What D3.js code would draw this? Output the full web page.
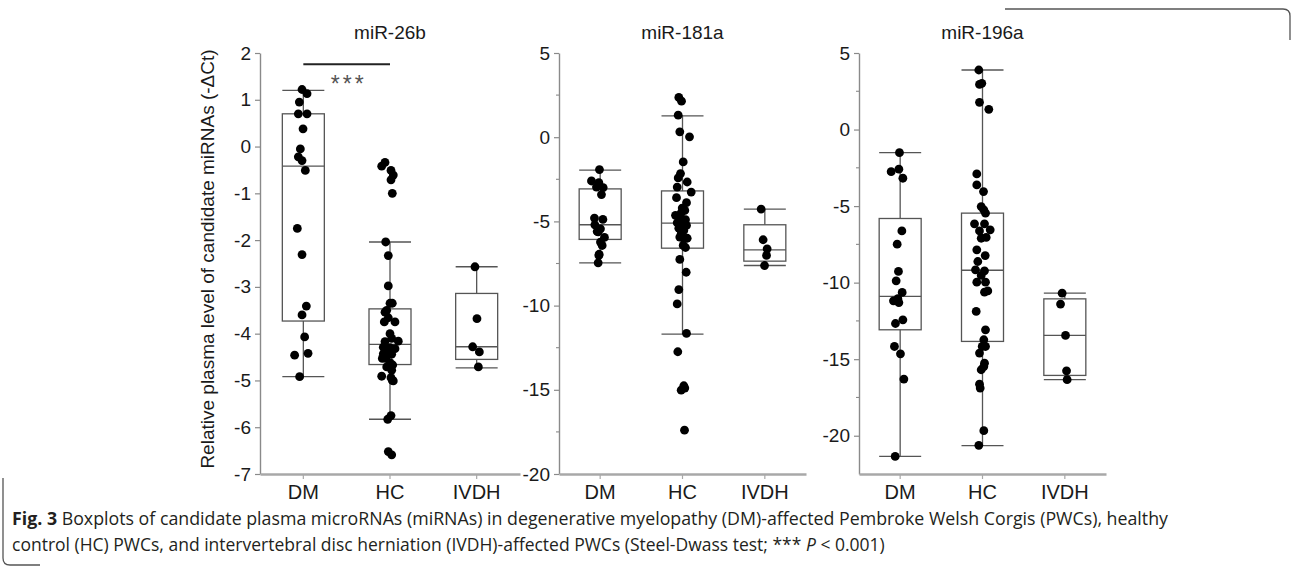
<!DOCTYPE html>
<html>
<head>
<meta charset="utf-8" />
<title>Fig. 3 miRNA boxplots</title>
<script src="https://d3js.org/d3.v7.min.js"></script>
<style>
  body { margin:0; background:#fff; }
  .lab { font-family: Helvetica, Arial, "Liberation Sans", sans-serif; fill:#1a1a1a; }
  .cap { font-family: "Liberation Sans Narrow", "Open Sans", sans-serif; fill:#231f20; }
</style>
</head>
<body>
<svg id="viz"></svg>
<script>
var width = 1292, height = 569;

var groups = ["DM", "HC", "IVDH"];
var titles = ["miR-26b", "miR-181a", "miR-196a"];

// miR-26b  (-dCt), box = [whisker low, q1, median, q3, whisker high]
var mir26b_DM = [1.22, 1.13, 0.95, 0.70, 0.70, 0.38, -0.05, -0.22, -0.30, -0.51, -1.75, -2.31, -3.41, -3.60, -4.07, -4.46, -4.42, -4.92];
var mir26b_HC = [-0.34, -0.42, -0.51, -0.61, -0.71, -1.00, -2.04, -2.33, -2.98, -3.35, -3.35, -3.54, -3.50, -3.66, -3.75, -3.75, -4.00, -4.10, -4.16, -4.17,
                 -4.29, -4.30, -4.32, -4.36, -4.43, -4.44, -4.53, -4.53, -4.62, -4.67, -4.71, -4.78, -4.91, -4.94, -5.01, -5.00, -5.75, -5.83, -6.52, -6.59];
var mir26b_IVDH = [-2.57, -3.68, -4.28, -4.39, -4.71];
var box26b = [[-4.92, -3.73, -0.42, 0.70, 1.20], [-5.83, -4.66, -4.23, -3.47, -2.04], [-4.73, -4.55, -4.28, -3.14, -2.57]];
var jit26b_DM = [-0.13, 0.37, -0.4, -0.5, 0.37, -0.03, -0.3, -0.5, -0.13, 0.2, -0.6, -0.13, 0.3, -0.13, 0.13, -0.87, 0.47, -0.37];
var jit26b_HC = [-0.5, -0.83, 0.1, 0.33, 0.1, 0.23, -0.43, -0.17, -0.17, 0, 0.23, -0.5, -0.33, -0.17, -0.57, 0.5, 0, 0.17, 0.83, -0.5,
                 -0.67, 0, 0.5, -0.23, -0.67, 0.17, -0.43, -0.77, 0, 0.27, -0.33, 0.17, -0.83, 0.1, 0.33, 0.23, 0.1, -0.23, -0.17, 0.17];
var jit26b_IVDH = [-0.17, 0.03, -0.4, 0.27, 0.17];

// miR-181a
var mir181a_DM = [-1.92, -2.60, -2.70, -2.96, -2.99, -3.41, -4.80, -4.88, -5.20, -5.44, -5.60, -5.62, -5.95, -6.23, -6.43, -6.95, -7.02, -7.46];
var mir181a_HC = [2.36, 2.14, 1.31, 0.32, 0.02, -1.47, -2.16, -2.42, -2.66, -2.96, -3.26, -3.59, -3.89, -4.21, -4.35, -4.50, -4.64, -4.80, -4.90, -5.08,
                  -5.20, -5.24, -5.40, -5.54, -5.73, -5.93, -6.00, -6.02, -6.43, -6.55, -7.26, -8.02, -9.05, -9.90, -11.65, -12.74, -14.76, -15.02, -14.90, -17.40];
var mir181a_IVDH = [-4.27, -6.09, -6.63, -7.02, -7.62];
var box181a = [[-7.46, -6.07, -5.20, -3.07, -1.96], [-11.69, -6.59, -5.10, -3.19, 1.27], [-7.62, -7.36, -6.69, -5.20, -4.27]];
var jit181a_DM = [-0.07, -0.87, -0.13, -0.37, 0.3, 0.13, -0.57, 0.27, -0.53, 0.03, -0.3, -0.2, 0.43, 0.03, 0.2, -0.1, -0.13, -0.2];
var jit181a_HC = [-0.37, -0.1, -0.43, -0.27, 0.7, 0.07, -0.2, -0.43, 0.47, -0.53, 0.87, -0.6, 0.4, -0.03, 0.23, -0.13, -0.7, -0.27, 0.3, -0.53,
                  0.07, 0.4, -0.37, 0.13, -0.13, -0.27, 0.47, 0.13, 0.07, 0.3, -0.27, 0.37, -0.37, -0.53, 0.4, -0.47, 0.13, -0.13, 0.23, 0.2];
var jit181a_IVDH = [-0.37, -0.17, 0.23, 0.17, -0.03];

// miR-196a
var mir196a_DM = [-1.51, -2.75, -2.59, -3.18, -6.62, -7.49, -9.27, -9.88, -10.64, -11.19, -11.30, -11.05, -12.43, -12.67, -14.17, -14.65, -16.30, -21.35];
var mir196a_HC = [3.89, 2.95, 3.02, 1.78, 1.32, -2.90, -3.62, -4.05, -5.03, -5.25, -5.46, -6.16, -6.16, -6.62, -6.55, -7.05, -7.10, -7.86, -8.23, -8.62,
                  -9.16, -9.23, -9.53, -9.97, -9.97, -10.54, -10.62, -11.88, -13.08, -13.73, -14.17, -14.17, -14.60, -15.26, -15.48, -15.69, -16.63, -16.89, -19.67, -20.63];
var mir196a_IVDH = [-10.69, -11.40, -13.45, -15.76, -16.34];
var box196a = [[-21.35, -13.08, -10.90, -5.81, -1.51], [-20.65, -13.84, -9.19, -5.46, 3.89], [-16.34, -16.06, -13.45, -11.06, -10.69]];
var jit196a_DM = [-0.07, -0.9, -0.13, 0.27, 0.17, -0.3, -0.17, -0.4, 0.2, -0.67, -0.13, -0.23, 0.27, -0.47, -0.57, 0.03, 0.37, -0.5];
var jit196a_HC = [-0.37, -0.3, -0.07, -0.3, 0.63, -0.57, -0.57, 0.1, -0.13, 0.13, 0.3, -0.8, 0.2, -0.3, 0.77, 0.37, -0.13, -0.57, 0.27, -0.47,
                  -0.7, 0.2, -0.13, -0.57, 0.3, 0.53, 0.2, -0.63, 0.3, 0.13, -0.03, 0.3, -0.3, 0.2, 0.13, -0.13, -0.3, -0.23, 0.13, -0.37];
var jit196a_IVDH = [-0.27, -0.43, 0.07, 0.17, 0.23];

// axes
var yDomains = [[-7, 2], [-20, 5], [-22.5, 5]];
var majorTicks = [d3.range(-7, 3, 1), [-20, -15, -10, -5, 0, 5], [-20, -15, -10, -5, 0, 5]];
var minorTicks = [[], [-17.5, -12.5, -7.5, -2.5, 2.5], [-17.5, -12.5, -7.5, -2.5, 2.5]];

var panels = [
  {title: titles[0], dom: yDomains[0], major: majorTicks[0], minor: minorTicks[0], x0: 260, x1: 520,
   vals: [mir26b_DM, mir26b_HC, mir26b_IVDH], jit: [jit26b_DM, jit26b_HC, jit26b_IVDH], box: box26b},
  {title: titles[1], dom: yDomains[1], major: majorTicks[1], minor: minorTicks[1], x0: 559, x1: 806,
   vals: [mir181a_DM, mir181a_HC, mir181a_IVDH], jit: [jit181a_DM, jit181a_HC, jit181a_IVDH], box: box181a},
  {title: titles[2], dom: yDomains[2], major: majorTicks[2], minor: minorTicks[2], x0: 859, x1: 1106,
   vals: [mir196a_DM, mir196a_HC, mir196a_IVDH], jit: [jit196a_DM, jit196a_HC, jit196a_IVDH], box: box196a}
];

var yTop = 53, yBottom = 474;
var boxW = 42;

var svg = d3.select("#viz").attr("width", width).attr("height", height);
svg.append("rect").attr("width", width).attr("height", height).attr("fill", "#fff");

var jitScale = d3.scaleLinear().domain([-1, 1]).range([-10, 10]);

panels.forEach(function (p, pi) {
  var g = svg.append("g");
  var y = d3.scaleLinear().domain(p.dom).range([yBottom, yTop]);
  var x = d3.scaleBand().domain(groups).range([p.x0, p.x1]);
  var cx = function (k) { return x(k) + x.bandwidth() / 2; };

  // y axis
  var ya = g.append("g").attr("transform", "translate(" + p.x0 + ",0)")
    .call(d3.axisLeft(y).tickValues(p.major).tickSize(5).tickSizeOuter(0).tickPadding(4)
      .tickFormat(function (d) { return String(d); }));
  ya.select(".domain").attr("stroke", "#8a8a8a").attr("stroke-width", 1.4);
  ya.selectAll(".tick line").attr("stroke", "#8a8a8a").attr("stroke-width", 1.2);
  ya.selectAll(".tick text").attr("class", "lab").style("font-size", "19px");
  g.selectAll(".minor").data(p.minor).enter().append("line")
    .attr("x1", p.x0 - 3).attr("x2", p.x0)
    .attr("y1", function (d) { return y(d); }).attr("y2", function (d) { return y(d); })
    .attr("stroke", "#8a8a8a").attr("stroke-width", 1.1);

  // x axis
  var xa = g.append("g").attr("transform", "translate(0," + yBottom + ")")
    .call(d3.axisBottom(x).tickSize(5).tickSizeOuter(0).tickPadding(6));
  xa.select(".domain").attr("stroke", "#a8a8a8").attr("stroke-width", 2.4);
  xa.selectAll(".tick line").attr("stroke", "#a8a8a8").attr("stroke-width", 1.2);
  xa.selectAll(".tick text").attr("class", "lab").style("font-size", "20px");

  // title
  g.append("text").attr("class", "lab")
    .attr("x", (p.x0 + p.x1) / 2).attr("y", 39)
    .attr("text-anchor", "middle").style("font-size", "19px").text(p.title);

  // boxes
  groups.forEach(function (k, gi) {
    var b = p.box[gi];
    var c = cx(k);
    var bg = g.append("g").attr("fill", "none").attr("stroke", "#555").attr("stroke-width", 1.3);
    bg.append("line").attr("x1", c).attr("x2", c).attr("y1", y(b[0])).attr("y2", y(b[1]));
    bg.append("line").attr("x1", c).attr("x2", c).attr("y1", y(b[3])).attr("y2", y(b[4]));
    bg.append("line").attr("x1", c - boxW / 2).attr("x2", c + boxW / 2).attr("y1", y(b[0])).attr("y2", y(b[0]));
    bg.append("line").attr("x1", c - boxW / 2).attr("x2", c + boxW / 2).attr("y1", y(b[4])).attr("y2", y(b[4]));
    bg.append("rect").attr("x", c - boxW / 2).attr("width", boxW)
      .attr("y", y(b[3])).attr("height", y(b[1]) - y(b[3]));
    bg.append("line").attr("x1", c - boxW / 2).attr("x2", c + boxW / 2).attr("y1", y(b[2])).attr("y2", y(b[2]));

    g.selectAll(".dot" + gi).data(p.vals[gi]).enter().append("circle")
      .attr("r", 4.4)
      .attr("fill", "#000")
      .attr("cx", function (d, i) { return c + jitScale(p.jit[gi][i]); })
      .attr("cy", function (d) { return y(d); });
  });

  if (pi === 0) {
    // significance bar DM vs HC
    g.append("line").attr("x1", cx("DM")).attr("x2", cx("HC"))
      .attr("y1", y(1.76)).attr("y2", y(1.76))
      .attr("stroke", "#222").attr("stroke-width", 2.2);
    g.append("text").attr("class", "lab")
      .attr("x", (cx("DM") + cx("HC")) / 2 + 2).attr("y", y(1.76) + 28)
      .attr("text-anchor", "middle").style("font-size", "23px").style("letter-spacing", "3px")
      .style("fill", "#555").text("***");
    // y axis title
    svg.append("text").attr("class", "lab")
      .attr("transform", "translate(214,259) rotate(-90)")
      .attr("text-anchor", "middle").style("font-size", "19px")
      .text("Relative plasma level of candidate miRNAs (-\u0394Ct)");
  }
});

// caption
var cap1 = svg.append("text").attr("class", "cap").attr("x", 12).attr("y", 525)
  .style("font-size", "18px").attr("textLength", 1156).attr("lengthAdjust", "spacingAndGlyphs");
cap1.append("tspan").attr("font-weight", "bold").text("Fig. 3");
cap1.append("tspan").text(" Boxplots of candidate plasma microRNAs (miRNAs) in degenerative myelopathy (DM)-affected Pembroke Welsh Corgis (PWCs), healthy");
var cap2 = svg.append("text").attr("class", "cap").attr("x", 12).attr("y", 551)
  .style("font-size", "17.5px");
cap2.append("tspan").text("control (HC) PWCs, and intervertebral disc herniation (IVDH)-affected PWCs (Steel-Dwass test; *** ");
cap2.append("tspan").attr("font-style", "italic").text("P");
cap2.append("tspan").text(" < 0.001)");

// frame pieces
svg.append("path").attr("d", "M1005,9 H1283 Q1290,9 1290,16 V40")
  .attr("fill", "none").attr("stroke", "#555").attr("stroke-width", 1.3);
svg.append("path").attr("d", "M3,478 V558 Q3,565 10,565 H40")
  .attr("fill", "none").attr("stroke", "#555").attr("stroke-width", 1.3);
</script>
</body>
</html>
